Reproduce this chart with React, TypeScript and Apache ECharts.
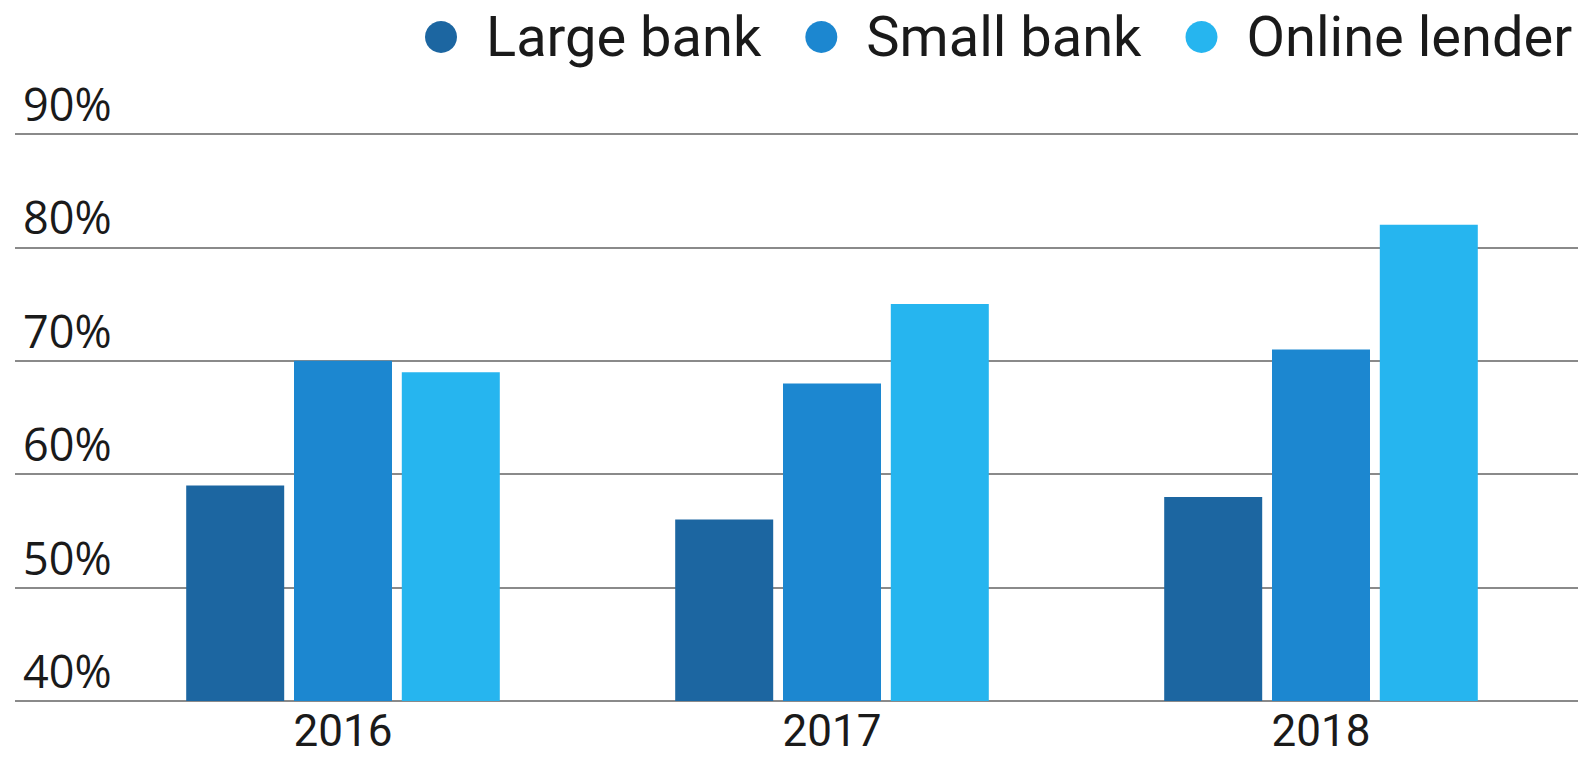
import React, { useEffect, useRef } from "react";
import * as echarts from "echarts";

const categories = ["2016", "2017", "2018"];
const seriesNames = ["Large bank", "Small bank", "Online lender"];
const largeBank = [59, 56, 58];
const smallBank = [70, 68, 71];
const onlineLender = [69, 75, 82];
const yMin = 40;
const yMax = 90;
const yStep = 10;

const colors = ["#1c66a1", "#1c87d0", "#26b5ef"];
const FONT = "'Open Sans', sans-serif";
const FONT2 = "Roboto, sans-serif";

export default function App() {
  const ref = useRef<HTMLDivElement>(null);
  useEffect(() => {
    document.body.style.margin = "0";
    const chart = echarts.init(ref.current!, null, { renderer: "svg" });
    const values = [largeBank, smallBank, onlineLender];
    chart.setOption({
      animation: false,
      color: colors,
      textStyle: { fontFamily: FONT },
      legend: {
        left: 425,
        top: 9,
        width: 1400,
        padding: 0,
        itemGap: 44,
        itemWidth: 32,
        itemHeight: 32,
        icon: "circle",
        textStyle: {
          fontFamily: FONT2,
          fontSize: 56,
          lineHeight: 50,
          color: "#1a1a1a",
          padding: [0, 0, 4, 24],
        },
        data: seriesNames,
      },
      grid: [
        { left: 98.5, right: 12.5, top: 134, bottom: 57, containLabel: false },
        { left: 15, right: 0, top: 134, bottom: 57, containLabel: false },
      ],
      xAxis: [
        {
          type: "category",
          gridIndex: 0,
          data: categories,
          axisLine: { show: false },
          axisTick: { show: false },
          axisLabel: {
            fontFamily: FONT2,
            fontSize: 44,
            lineHeight: 44,
            color: "#1a1a1a",
            margin: 8,
          },
        },
        { type: "value", gridIndex: 1, show: false, min: 0, max: 1 },
      ],
      yAxis: [
        {
          type: "value",
          gridIndex: 0,
          min: yMin,
          max: yMax,
          interval: yStep,
          show: false,
          splitLine: { show: false },
        },
        {
          type: "value",
          gridIndex: 1,
          min: yMin,
          max: yMax,
          interval: yStep,
          axisLine: { show: false },
          axisTick: { show: false },
          splitLine: { show: true, lineStyle: { color: "#8a8a8a", width: 2 } },
          axisLabel: {
            inside: true,
            margin: 8,
            fontFamily: FONT,
            fontSize: 45,
            color: "#1a1a1a",
            verticalAlign: "bottom",
            padding: [0, 0, 8, 0],
            formatter: (v: number) => v + "%",
          },
        },
      ],
      series: seriesNames.map((name, i) => ({
        name,
        type: "bar",
        xAxisIndex: 0,
        yAxisIndex: 0,
        barWidth: 98,
        barGap: "10%",
        data: values[i],
        itemStyle: { color: colors[i] },
        z: 3,
      })),
    });
    return () => chart.dispose();
  }, []);
  return (
    <div
      ref={ref}
      style={{ position: "absolute", left: 0, top: 0, width: 1578, height: 758, background: "#fff" }}
    />
  );
}
